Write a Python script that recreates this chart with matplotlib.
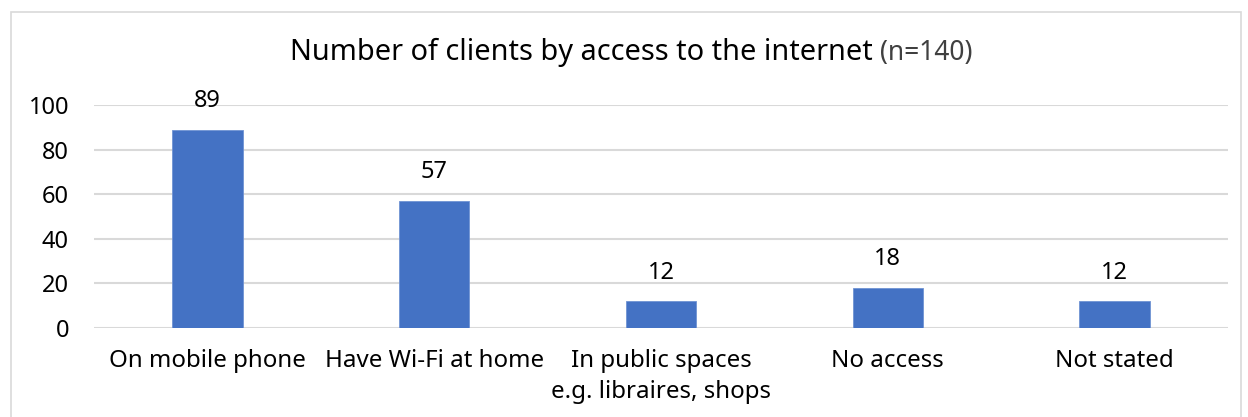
import matplotlib
matplotlib.use("Agg")
import matplotlib.pyplot as plt
from matplotlib.patches import Rectangle

categories = ["On mobile phone", "Have Wi-Fi at home", "In public spaces\ne.g. libraires, shops", "No access", "Not stated"]
values = [89, 57, 12, 18, 12]
yticks = [0, 20, 40, 60, 80, 100]
title_main = "Number of clients by access to the internet"
title_n = "(n=140)"

plt.rcParams['font.family'] = ['Noto Sans', 'DejaVu Sans']

W, H = 1248, 417
fig = plt.figure(figsize=(W/100, H/100), dpi=100)
fig.patch.set_facecolor('white')

# chart border
fig.patches.append(Rectangle((11/W, -0.05), (1241-11)/W, 1 - 12/H + 0.05,
                             transform=fig.transFigure, fill=False,
                             edgecolor='#d9d9d9', linewidth=1.2))

ax = fig.add_axes([94/W, (H-328)/H, (1228-94)/W, (328-105)/H])
x = list(range(len(categories)))
bars = ax.bar(x, values, width=0.31, color='#4472C4', edgecolor='#6f93d3', linewidth=0.6, zorder=3)
ax.set_xlim(-0.5, len(categories) - 0.5)
ax.set_ylim(0, 100)
ax.set_yticks(yticks)
ax.set_yticklabels([str(t) for t in yticks], fontsize=17)
ax.set_xticks(x)
ax.set_xticklabels(categories, fontsize=17.3, linespacing=1.42, va='top')
ax.tick_params(axis='y', length=0, pad=18)
ax.tick_params(axis='x', length=0, pad=15)
ax.grid(axis='y', color='#d9d9d9', linewidth=1.5, zorder=0)
for s in ax.spines.values():
    s.set_visible(False)

for xi, v in zip(x, values):
    ax.annotate(str(v), xy=(xi, v), xytext=(0, 12), textcoords='offset points',
                ha='center', va='bottom', fontsize=17, color='black', annotation_clip=False)

t = fig.text(290/W, (H-52)/H, title_main, ha='left', va='center', fontsize=20.8, color='black')
ax.annotate(title_n, xy=(1, 0), xycoords=t, xytext=(5, 0), textcoords='offset points',
            ha='left', va='bottom', fontsize=19, color='#404040', annotation_clip=False)

fig.savefig("out.png", dpi=100)
